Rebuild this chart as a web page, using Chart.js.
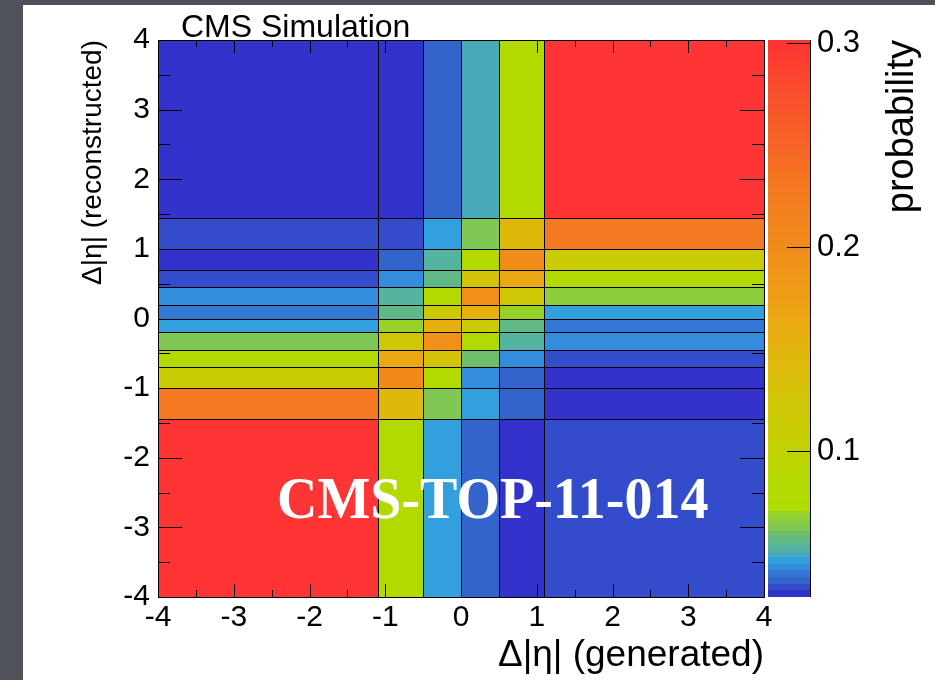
<!DOCTYPE html>
<html>
<head>
<meta charset="utf-8">
<script src="https://cdn.jsdelivr.net/npm/chart.js@4"></script>
<style>
  html, body { margin: 0; padding: 0; background: #4f525b; }
  canvas { display: block; }
</style>
</head>
<body>
<canvas id="matrix" width="935" height="680"></canvas>
<script>
// bin edges: generated Δ|η| on x, reconstructed Δ|η| on y
const xEdges = [-4, -1.1, -0.5, 0, 0.5, 1.1, 4];
const yEdges = [-4, -1.45, -1, -0.7, -0.45, -0.2, 0, 0.2, 0.45, 0.7, 1, 1.45, 4];

// probability per cell, one row per reconstructed bin (bottom to top), columns follow xEdges
const probRows = [
  [0.300, 0.080, 0.046, 0.037, 0.030, 0.033],
  [0.228, 0.143, 0.063, 0.046, 0.037, 0.030],
  [0.112, 0.205, 0.080, 0.043, 0.037, 0.030],
  [0.080, 0.167, 0.128, 0.060, 0.043, 0.033],
  [0.063, 0.122, 0.195, 0.080, 0.054, 0.043],
  [0.046, 0.068, 0.155, 0.112, 0.057, 0.040],
  [0.040, 0.057, 0.118, 0.155, 0.068, 0.046],
  [0.043, 0.054, 0.080, 0.195, 0.122, 0.065],
  [0.033, 0.043, 0.057, 0.128, 0.167, 0.080],
  [0.030, 0.037, 0.052, 0.080, 0.200, 0.112],
  [0.033, 0.033, 0.046, 0.063, 0.143, 0.228],
  [0.030, 0.030, 0.037, 0.049, 0.080, 0.300]
];

const xTicks = [-4, -3, -2, -1, 0, 1, 2, 3, 4];
const yTicks = [-4, -3, -2, -1, 0, 1, 2, 3, 4];
const zTicks = [0.1, 0.2, 0.3];
const zRange = [0.0284, 0.3015];

// colour palette (ROOT style): stepped bands at the low end, smooth above
const lowBandStart = 0.0284;
const lowBandStep = 0.00325;
const lowBands = ['#3333cc', '#334ccc', '#3364cc', '#3378d4', '#338cdc', '#33a0de',
  '#4aa9b8', '#55b4a0', '#5fb987', '#6ebe6e', '#80c855', '#8ccd3c', '#96d228'];
const highStops = [
  [0.0706, [176, 220, 0]],
  [0.09, [182, 216, 0]],
  [0.10, [192, 210, 0]],
  [0.115, [203, 202, 4]],
  [0.13, [212, 194, 9]],
  [0.15, [228, 180, 14]],
  [0.165, [235, 168, 18]],
  [0.18, [238, 155, 22]],
  [0.20, [240, 140, 26]],
  [0.23, [244, 120, 32]],
  [0.25, [247, 100, 38]],
  [0.275, [250, 78, 44]],
  [0.30, [255, 52, 52]]
];

const FONT = '"Liberation Sans", Arial, Helvetica, sans-serif';

function colorFor(v) {
  if (v < highStops[0][0]) {
    let k = Math.floor((v - lowBandStart) / lowBandStep);
    k = Math.max(0, Math.min(lowBands.length - 1, k));
    return lowBands[k];
  }
  for (let i = 1; i < highStops.length; i++) {
    if (v <= highStops[i][0]) {
      const [z0, c0] = highStops[i - 1];
      const [z1, c1] = highStops[i];
      const t = (v - z0) / (z1 - z0);
      return 'rgb(' + c0.map((c, j) => Math.round(c + (c1[j] - c) * t)).join(',') + ')';
    }
  }
  return 'rgb(' + highStops[highStops.length - 1][1].join(',') + ')';
}

// one point per cell, placed at the cell centre
const cells = [];
probRows.forEach((row, j) => {
  row.forEach((v, i) => {
    cells.push({
      x: (xEdges[i] + xEdges[i + 1]) / 2,
      y: (yEdges[j] + yEdges[j + 1]) / 2,
      x0: xEdges[i], x1: xEdges[i + 1],
      y0: yEdges[j], y1: yEdges[j + 1],
      v
    });
  });
});

const crisp = p => Math.round(p) + 0.5;

const matrixPlugin = {
  id: 'matrix',
  beforeDraw(chart) {
    const ctx = chart.ctx;
    ctx.save();
    ctx.fillStyle = '#4f525b';
    ctx.fillRect(0, 0, chart.width, chart.height);
    ctx.fillStyle = '#ffffff';
    ctx.fillRect(23, 5, chart.width - 23, chart.height - 5);
    ctx.restore();
  },
  beforeDatasetsDraw(chart) {
    const { ctx, scales: { x, y } } = chart;
    const data = chart.data.datasets[0].data;
    ctx.save();
    data.forEach(c => {
      const l = Math.round(x.getPixelForValue(c.x0));
      const r = Math.round(x.getPixelForValue(c.x1));
      const t = Math.round(y.getPixelForValue(c.y1));
      const b = Math.round(y.getPixelForValue(c.y0));
      ctx.fillStyle = colorFor(c.v);
      ctx.fillRect(l, t, r - l, b - t);
    });
    ctx.strokeStyle = '#000';
    ctx.lineWidth = 1;
    data.forEach(c => {
      const l = crisp(x.getPixelForValue(c.x0));
      const r = crisp(x.getPixelForValue(c.x1));
      const t = crisp(y.getPixelForValue(c.y1));
      const b = crisp(y.getPixelForValue(c.y0));
      ctx.strokeRect(l, t, r - l, b - t);
    });
    ctx.restore();
  },
  afterDatasetsDraw(chart) {
    const { ctx, chartArea: a, scales: { x, y, z } } = chart;
    ctx.save();

    // frame
    ctx.strokeStyle = '#000';
    ctx.lineWidth = 1;
    ctx.strokeRect(crisp(a.left), crisp(a.top), Math.round(a.right - a.left), Math.round(a.bottom - a.top));

    // inward ticks, major on integers and minor half way
    ctx.beginPath();
    for (let i = 0; i < xTicks.length; i++) {
      const vals = [[xTicks[i], 13]];
      if (i < xTicks.length - 1) vals.push([(xTicks[i] + xTicks[i + 1]) / 2, 7]);
      vals.forEach(([v, len]) => {
        const px = crisp(x.getPixelForValue(v));
        ctx.moveTo(px, a.bottom); ctx.lineTo(px, a.bottom - len);
        ctx.moveTo(px, a.top); ctx.lineTo(px, a.top + len);
      });
    }
    for (let i = 0; i < yTicks.length; i++) {
      const vals = [[yTicks[i], 24]];
      if (i < yTicks.length - 1) vals.push([(yTicks[i] + yTicks[i + 1]) / 2, 12]);
      vals.forEach(([v, len]) => {
        const py = crisp(y.getPixelForValue(v));
        ctx.moveTo(a.left, py); ctx.lineTo(a.left + len, py);
        ctx.moveTo(a.right, py); ctx.lineTo(a.right - len, py);
      });
    }
    ctx.stroke();

    // colour bar drawn through the z scale
    const cbLeft = z.left + 4;
    const cbRight = z.left + 46;
    for (let py = Math.round(z.top); py < Math.round(z.bottom); py++) {
      ctx.fillStyle = colorFor(z.getValueForPixel(py + 0.5));
      ctx.fillRect(cbLeft, py, cbRight - cbLeft, 1);
    }
    ctx.beginPath();
    ctx.moveTo(cbRight + 0.5, z.top);
    ctx.lineTo(cbRight + 0.5, z.bottom);
    zTicks.forEach(v => {
      const py = crisp(z.getPixelForValue(v));
      ctx.moveTo(cbRight, py); ctx.lineTo(cbRight - 23, py);
    });
    ctx.stroke();

    // colour bar title
    ctx.fillStyle = '#000';
    ctx.font = '38px ' + FONT;
    ctx.translate(z.left + 139, z.top);
    ctx.rotate(-Math.PI / 2);
    ctx.textAlign = 'right';
    ctx.textBaseline = 'middle';
    ctx.fillText('probability', 0, 0);
    ctx.restore();

    ctx.save();
    ctx.fillStyle = '#000';
    ctx.font = '32px ' + FONT;
    ctx.textAlign = 'left';
    ctx.textBaseline = 'alphabetic';
    ctx.fillText('CMS Simulation', 181, 37);

    ctx.fillStyle = '#ffffff';
    ctx.font = 'bold 56px "Liberation Serif", "Times New Roman", serif';
    ctx.translate(277, 518);
    ctx.scale(1, 1.05);
    ctx.fillText('CMS-TOP-11-014', 0, 0);
    ctx.restore();
  }
};

const tickFont = { family: FONT, size: 30 };

new Chart(document.getElementById('matrix'), {
  type: 'scatter',
  data: {
    datasets: [{
      label: 'probability',
      data: cells,
      pointRadius: 0,
      pointHoverRadius: 0
    }]
  },
  options: {
    responsive: false,
    animation: false,
    devicePixelRatio: 1,
    layout: { padding: { top: 40, left: 0, right: 0, bottom: 0 } },
    plugins: {
      legend: { display: false },
      tooltip: { enabled: false }
    },
    scales: {
      x: {
        type: 'linear',
        position: 'bottom',
        min: -4,
        max: 4,
        afterBuildTicks: s => { s.ticks = xTicks.map(v => ({ value: v })); },
        afterFit: s => { s.height = 83; },
        grid: { display: false, drawTicks: false },
        border: { display: false },
        ticks: { color: '#000', font: tickFont, padding: 3, maxRotation: 0, autoSkip: false, callback: v => String(v) },
        title: {
          display: true,
          text: 'Δ|η| (generated)',
          align: 'end',
          color: '#000',
          font: { family: FONT, size: 37 },
          padding: { top: 0, bottom: 2 }
        }
      },
      y: {
        type: 'linear',
        position: 'left',
        min: -4,
        max: 4,
        afterBuildTicks: s => { s.ticks = yTicks.map(v => ({ value: v })); },
        afterFit: s => { s.width = 158; },
        grid: { display: false, drawTicks: false },
        border: { display: false },
        ticks: { color: '#000', font: tickFont, padding: 8, autoSkip: false, callback: v => String(v) },
        title: {
          display: true,
          text: 'Δ|η| (reconstructed)',
          align: 'end',
          color: '#000',
          font: { family: FONT, size: 28 },
          padding: { top: 76, bottom: 0 }
        }
      },
      z: {
        type: 'linear',
        position: 'right',
        min: zRange[0],
        max: zRange[1],
        afterBuildTicks: s => { s.ticks = zTicks.map(v => ({ value: v })); },
        afterFit: s => { s.width = 171; },
        grid: { display: true, drawOnChartArea: false, drawTicks: true, tickLength: 46, color: 'rgba(0,0,0,0)' },
        border: { display: false },
        ticks: { color: '#000', font: { family: FONT, size: 31 }, padding: 7, autoSkip: false, callback: v => v.toFixed(1) }
      }
    }
  },
  plugins: [matrixPlugin]
});
</script>
</body>
</html>
